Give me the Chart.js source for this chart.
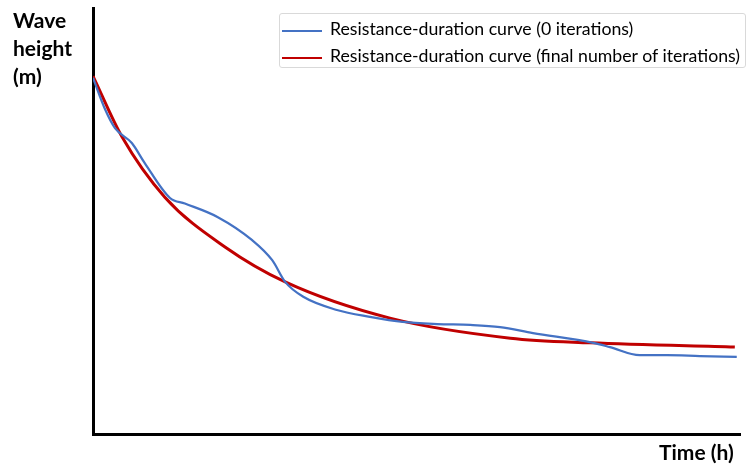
<!DOCTYPE html>
<html>
<head>
<meta charset="utf-8">
<script src="https://cdn.jsdelivr.net/npm/chart.js@4"></script>
<style>
  body { margin: 0; background: #fff; }
  #wrap { position: relative; width: 748px; height: 464px; }
  .axlabel { position: absolute; font-family: Lato, sans-serif; font-weight: bold; font-size: 21px; color: #000; }
  #legend { position: absolute; left: 279px; top: 13px; width: 467px; height: 55px; box-sizing: border-box;
            border: 1px solid #d9d9d9; border-radius: 3px; font-family: Lato, sans-serif; font-size: 17.7px; color: #000; }
  #legend .row { position: absolute; left: 2px; height: 20px; line-height: 20px; white-space: nowrap; }
  #legend .swatch { display: inline-block; width: 40px; height: 2px; vertical-align: middle; margin-right: 8px; }
</style>
</head>
<body>
<div id="wrap">
  <canvas id="chart" width="748" height="464"></canvas>
  <div class="axlabel" style="left:13px; top:6px; line-height:28px;">Wave<br>height<br>(m)</div>
  <div class="axlabel" style="left:659px; top:439px;">Time (h)</div>
  <div id="legend"></div>
</div>
<script>
// time axis in relative units (0..100), wave height in relative units (0..100)
var blueTime   = [0, 1.9, 3.4, 6.0, 8.0, 11.9, 14.2, 19.3, 24.6, 27.7, 29.7, 32.5, 37.7, 42.8, 47.9, 53.2, 58.3, 62.9, 68.0, 77.3, 79.9, 84.5, 88.7, 93.8, 99.5];
var blueHeight = [83.6, 76.1, 71.8, 68.3, 63.6, 55.4, 54.1, 50.9, 45.5, 40.8, 35.7, 32.2, 29.1, 27.5, 26.3, 25.8, 25.6, 25.1, 23.7, 21.4, 20.4, 18.5, 18.5, 18.3, 18.1];

var redTime   = [0, 4.5, 11.1, 20.4, 29.7, 45.9, 64.5, 76.8, 99.2];
var redHeight = [84.0, 69.7, 55.6, 43.9, 35.7, 27.2, 22.5, 21.4, 20.4];

function pts(xs, ys) {
  return xs.map(function(x, i) { return { x: x, y: ys[i] }; });
}

var ctx = document.getElementById('chart').getContext('2d');
var chart = new Chart(ctx, {
  type: 'line',
  data: {
    datasets: [{
      label: 'Resistance-duration curve (0 iterations)',
      data: pts(blueTime, blueHeight),
      borderColor: '#4472c4',
      borderWidth: 2.25,
      pointRadius: 0,
      fill: false,
      cubicInterpolationMode: 'monotone'
    }, {
      label: 'Resistance-duration curve (final number of iterations)',
      data: pts(redTime, redHeight),
      borderColor: '#c00000',
      borderWidth: 3,
      pointRadius: 0,
      fill: false,
      cubicInterpolationMode: 'monotone'
    }]
  },
  options: {
    responsive: false,
    animation: false,
    layout: { padding: { left: 85, top: 8, right: 8, bottom: 22 } },
    plugins: { legend: { display: false }, tooltip: { enabled: false } },
    scales: {
      x: {
        type: 'linear', min: 0, max: 100,
        grid: { display: false },
        ticks: { display: false },
        border: { display: true, color: '#000', width: 3 }
      },
      y: {
        min: 0, max: 100,
        grid: { display: false },
        ticks: { display: false },
        border: { display: true, color: '#000', width: 3 }
      }
    }
  }
});

// html legend built from the datasets
var leg = document.getElementById('legend');
chart.data.datasets.forEach(function(ds, i) {
  var row = document.createElement('div');
  row.className = 'row';
  row.style.top = (5 + i * 27) + 'px';
  row.innerHTML = '<span class="swatch" style="background:' + ds.borderColor + '"></span>' + ds.label;
  leg.appendChild(row);
});
</script>
</body>
</html>
